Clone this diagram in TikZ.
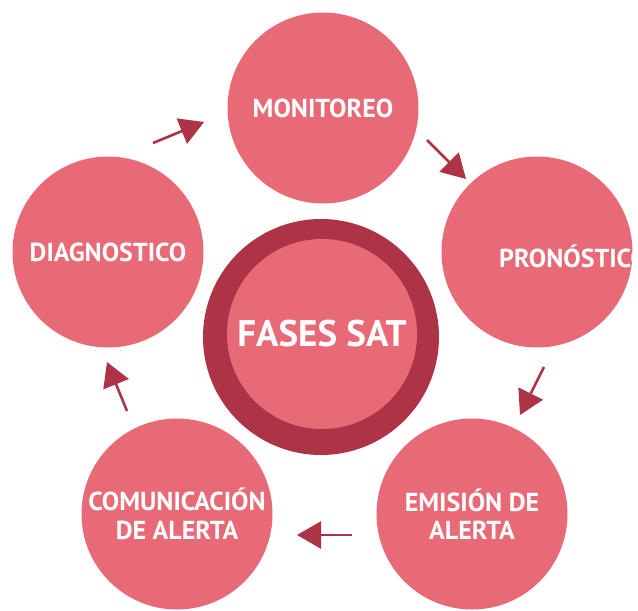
\documentclass[tikz,border=0pt]{standalone}
\usepackage{fontspec}
\setmainfont{PT Sans}
\usetikzlibrary{arrows.meta}
\definecolor{pinkc}{HTML}{E96A77}
\definecolor{darkc}{HTML}{AD3346}
\tikzset{
  phasefont/.style={font=\bfseries\fontsize{26}{28.5}\selectfont},
  phase/.style={circle, fill=pinkc, inner sep=0pt, minimum size=191pt, text=white, phasefont, align=center},
  flow/.style={draw=darkc, line width=2.6pt, -{Triangle[length=24pt,width=27pt]}, color=darkc}
}
\begin{document}
\begin{tikzpicture}[x=1pt,y=-1pt]
\useasboundingbox (0,0) rectangle (638,611);
% center
\node[circle, fill=darkc, inner sep=0pt, minimum size=236pt] (outer) at (321,337) {};
\node[circle, fill=pinkc, inner sep=0pt, minimum size=190pt, text=white, font=\bfseries\fontsize{37}{42}\selectfont] (center) at (322,334) {FASES SAT};
% phases
\node[phase] (mon) at (323,108) {MONITOREO};
\node[phase] (pro) at (537,252) {};
\begin{scope}
  \clip (537,252) circle (95.5pt);
  \node[anchor=west, text=white, phasefont, inner sep=0pt] (protext) at (499,256) {PRONÓSTICO};
\end{scope}
\node[phase] (emi) at (472,514) {EMISIÓN DE\\ALERTA};
\node[phase] (com) at (177,514) {COMUNICACIÓN\\DE ALERTA};
\node[phase] (dia) at (108,252) {DIAGNOSTICO};
% arrow end points
\coordinate (a1s) at (153,143); \coordinate (a1e) at (204,122);
\coordinate (a2s) at (427,140); \coordinate (a2e) at (466,179);
\coordinate (a3s) at (544,367); \coordinate (a3e) at (520,415);
\coordinate (a4s) at (352,535); \coordinate (a4e) at (297,535);
\coordinate (a5s) at (127,411); \coordinate (a5e) at (107,362);
\draw[flow] (a1s) -- (a1e);
\draw[flow] (a2s) -- (a2e);
\draw[flow] (a3s) -- (a3e);
\draw[flow] (a4s) -- (a4e);
\draw[flow] (a5s) -- (a5e);
\end{tikzpicture}
\end{document}
